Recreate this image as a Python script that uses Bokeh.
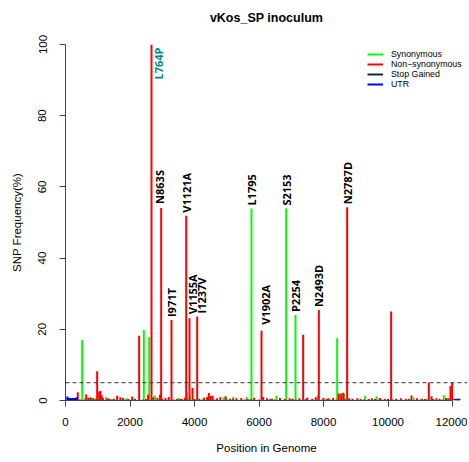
import math
import numpy as np
from bokeh.plotting import figure
from bokeh.models import ColumnDataSource, Legend, LegendItem, Span, FixedTicker, Title
from bokeh.core.properties import value
from bokeh.embed import file_html
from bokeh.resources import INLINE

# ---------------- data ----------------
title_text = "vKos_SP inoculum"
x_label = "Position in Genome"
y_label = "SNP Frequency(%)"
x_ticks = [0, 2000, 4000, 6000, 8000, 10000, 12000]
y_ticks = [0, 20, 40, 60, 80, 100]
threshold = 5

# Synonymous (green)
syn_pos = [518, 2429, 2595, 5767, 6843, 7132, 8424,
           600, 700, 900, 1250, 1450, 1900, 2770, 2800, 3500, 3760, 3860,
           4250, 4900, 5000, 5200, 5612, 6543, 7000, 7824, 8200, 8651,
           9293, 9643, 9800, 10800, 11200, 11731]
syn_freq = [17.0, 19.8, 17.8, 53.9, 53.9, 24.0, 17.5,
            0.5, 0.6, 0.7, 0.9, 0.4, 0.6, 1.4, 0.5, 0.8, 2.3, 1.1,
            0.5, 0.9, 0.8, 1.0, 1.0, 1.3, 0.5, 1.5, 0.4, 2.0,
            1.3, 1.2, 0.4, 0.8, 0.5, 1.5]

# Non-synonymous (red)
nonsyn_pos = [982, 2284, 2667, 2967, 3287, 3743, 3845, 3938, 4084, 6078,
              7370, 7855, 8734, 10098, 11266, 11938, 11990,
              382, 642, 720, 780, 850, 1044, 1085, 1120, 1160, 1300, 1350,
              1602, 1700, 1780, 2067, 2150, 2560, 2720, 2850, 2930, 3100,
              3200, 3450, 3600, 3700, 4150, 4300, 4393, 4444, 4500, 4560,
              4700, 4800, 4961, 5100, 5300, 5450, 5650, 5850, 6130, 6250,
              6400, 6650, 6950, 7050, 7250, 7500, 7650, 7760, 8000, 8150,
              8300, 8475, 8548, 8611, 8800, 8900, 9050, 9150, 9400, 9500,
              9750, 9900, 10250, 10400, 10550, 10729, 10900, 11050, 11150,
              11350, 11500, 11600, 11800, 11870,
              450, 950, 1400, 1500, 1850, 1950, 2400, 2500, 3000, 3350,
              3550, 3800, 4000, 4600, 5200, 5550, 5750, 6000, 6350, 6500,
              6800, 7150, 7450, 7950, 8100, 8400, 8650, 9250, 9600, 9700,
              10000, 10150, 10650, 11000, 11400, 11700, 12050]
nonsyn_freq = [8.2, 18.2, 100.0, 54.1, 22.6, 51.9, 23.1, 3.5, 23.6, 19.6,
               18.5, 25.4, 54.3, 25.0, 5.0, 4.1, 4.9,
               2.3, 1.7, 0.8, 0.9, 0.6, 2.5, 2.7, 1.5, 0.8, 0.6, 0.5,
               1.3, 0.9, 0.7, 1.1, 0.5, 1.7, 0.9, 0.8, 1.6, 0.7,
               1.0, 0.4, 0.5, 0.8, 0.5, 0.8, 1.0, 2.1, 1.3, 1.3,
               0.6, 0.9, 1.2, 0.5, 0.6, 0.7, 0.5, 0.8, 1.0, 0.6,
               0.5, 0.7, 0.6, 0.5, 0.6, 0.8, 0.5, 0.9, 0.7, 0.6,
               0.8, 2.0, 2.0, 2.2, 0.6, 0.5, 0.6, 0.4, 0.5, 0.6,
               0.7, 0.5, 0.5, 0.6, 0.5, 1.4, 0.6, 0.5, 0.4,
               1.2, 0.6, 0.5, 0.7, 0.6,
               0.3, 0.4, 0.3, 0.5, 0.3, 0.4, 0.3, 0.4, 0.5, 0.3,
               0.4, 0.3, 0.4, 0.3, 0.5, 0.3, 0.4, 0.3, 0.4, 0.3,
               0.5, 0.3, 0.4, 0.3, 0.4, 0.3, 0.5, 0.3, 0.4, 0.3,
               0.4, 0.3, 0.4, 0.3, 0.4, 0.3, 0.4]

# Stop gained (none visible)
stop_pos = []
stop_freq = []

# UTR (blue)
utr_pos = [55, 80, 105, 130, 155, 180, 205, 230, 255, 280, 305, 330, 355,
           12100, 12130, 12160, 12190, 12215]
utr_freq = [1.1, 0.8, 0.7, 0.7, 0.6, 0.7, 0.6, 0.7, 0.6, 0.7, 0.7, 0.8, 0.9,
            0.5, 0.4, 0.5, 0.4, 0.5]

# Annotated mutations
label_names = ["N863S", "I971T", "V1121A", "V1155A", "I1237V", "L1795",
               "V1902A", "S2153", "P2254", "N2493D", "N2787D"]
label_pos = [2967, 3287, 3743, 3845, 4084, 5767, 6078, 6843, 7132, 7855, 8734]
highlight_names = ["L764P"]
highlight_pos = [2667]

# layout adjustments for labels (pixels)
label_dx = [-1.5, 0, 0, 2.5, 4, 0, 4, 0, 0, 0, 0]
label_dy = [-4, -3, -3, -4, -3, -3, -6, -3, -3, -3, -3]

# ---------------- figure ----------------
p = figure(width=467, height=460, output_backend="svg", toolbar_location=None,
           x_range=(0, 12465), y_range=(0, 100),
           min_border_left=65, min_border_right=0, min_border_top=44,
           min_border_bottom=60)
p.outline_line_color = None
p.grid.visible = False
p.background_fill_color = "white"
p.border_fill_color = "white"

def bars(pos, freq, color):
    if len(pos) == 0:
        src = ColumnDataSource(dict(x=np.array([np.nan]), y=np.array([np.nan]),
                                    y0=np.array([0.0])))
    else:
        src = ColumnDataSource(dict(x=pos, y=freq, y0=[0] * len(pos)))
    return p.segment(x0="x", y0="y0", x1="x", y1="y", source=src,
                     line_color=color, line_width=2, line_cap="butt")

r_syn = bars(syn_pos, syn_freq, "#00FF00")
r_non = bars(nonsyn_pos, nonsyn_freq, "#FF0000")
r_stop = bars(stop_pos, stop_freq, "#222222")
r_utr = bars(utr_pos, utr_freq, "#0000FF")

p.add_layout(Span(location=threshold, dimension="width", line_color="#333333",
                  line_width=1, line_dash="4 3"))

# labels
all_pos = syn_pos + nonsyn_pos
all_freq = syn_freq + nonsyn_freq
lookup = dict(zip(all_pos, all_freq))

lab_src = ColumnDataSource(dict(x=label_pos, y=[lookup[v] for v in label_pos],
                                text=label_names, dx=label_dx, dy=label_dy))
p.text(x="x", y="y", text="text", source=lab_src, angle=math.pi / 2,
       text_align="left", text_baseline="middle", x_offset="dx", y_offset="dy",
       text_font=value("Open Sans"), text_font_style="bold",
       text_font_size="11px", text_color="black")

hl_src = ColumnDataSource(dict(x=highlight_pos, y=[lookup[v] for v in highlight_pos],
                               text=highlight_names))
p.text(x="x", y="y", text="text", source=hl_src, angle=math.pi / 2,
       text_align="right", text_baseline="middle", x_offset=7, y_offset=3,
       text_font=value("Open Sans"), text_font_style="bold",
       text_font_size="11px", text_color="#008B8B")

# axes
for ax in (p.xaxis[0], p.yaxis[0]):
    ax.axis_line_color = "#444444"
    ax.major_tick_line_color = "#444444"
    ax.major_tick_out = 6
    ax.major_tick_in = 0
    ax.minor_tick_line_color = None
    ax.major_label_text_font = "Liberation Sans"
    ax.major_label_text_font_size = "11.5px"
    ax.major_label_text_color = "black"
    ax.axis_label_text_font = "Liberation Sans"
    ax.axis_label_text_font_size = "11.5px"
    ax.axis_label_text_font_style = "normal"
    ax.axis_label_text_color = "black"

p.xaxis.ticker = FixedTicker(ticks=x_ticks)
p.xaxis.bounds = (x_ticks[0], x_ticks[-1])
p.xaxis.major_label_standoff = 11
p.xaxis.axis_label = x_label
p.xaxis.axis_label_standoff = 13

p.yaxis.ticker = FixedTicker(ticks=y_ticks)
p.yaxis.bounds = (y_ticks[0], y_ticks[-1])
p.yaxis.major_label_orientation = "vertical"
p.yaxis.major_label_standoff = 13
p.yaxis.axis_label = y_label
p.yaxis.axis_label_standoff = 13

# spacer between frame and title (keeps the title high above the frame)
p.add_layout(Title(text=" ", text_font_size="2px", standoff=15), "above")

p.title.text = title_text
p.title.align = "center"
p.title.offset = -2
p.title.standoff = 2
p.title.text_font = "Liberation Sans"
p.title.text_font_size = "12.5px"
p.title.text_font_style = "bold"
p.title.text_color = "black"

legend = Legend(items=[
    LegendItem(label="Synonymous", renderers=[r_syn]),
    LegendItem(label="Non\u2212synonymous", renderers=[r_non]),
    LegendItem(label="Stop Gained", renderers=[r_stop]),
    LegendItem(label="UTR", renderers=[r_utr]),
], location=(302, 311), padding=0, margin=0, spacing=0,
    glyph_width=16, glyph_height=10, label_height=10, label_standoff=8,
    label_text_font="Liberation Sans", label_text_font_size="8.8px",
    label_text_color="black", background_fill_alpha=0, border_line_alpha=0)
p.add_layout(legend, "center")

open("out.html", "w").write(file_html(p, INLINE))
